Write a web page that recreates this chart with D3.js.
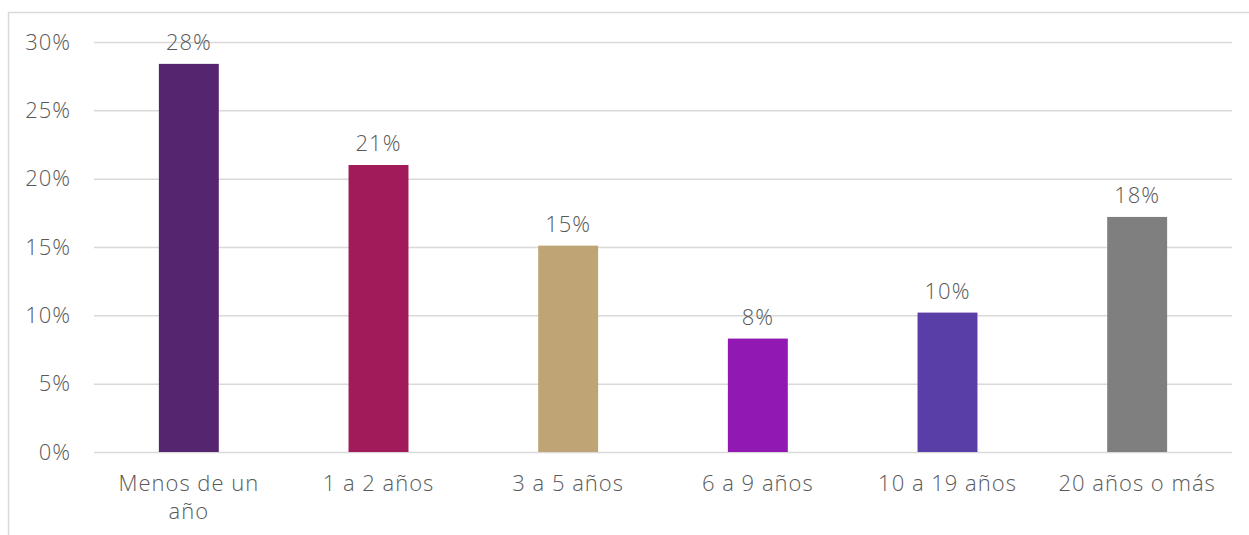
<!DOCTYPE html>
<html><head><meta charset="utf-8">
<script src="https://cdn.jsdelivr.net/npm/d3@7"></script>
<style>
body{margin:0;background:#fff;}
text{font-family:"Open Sans",sans-serif;font-weight:300;fill:#595959;letter-spacing:1px;}
</style></head>
<body>
<svg id="c" width="1249" height="535"></svg>
<script>
const categories = ["Menos de un año","1 a 2 años","3 a 5 años","6 a 9 años","10 a 19 años","20 años o más"];
const values = [0.284, 0.210, 0.151, 0.083, 0.102, 0.172];
const valueLabels = ["28%","21%","15%","8%","10%","18%"];
const colors = ["#55266f","#a11a5a","#bfa575","#9118b2","#5a3ea8","#7f7f7f"];
const yTicks = [0,0.05,0.10,0.15,0.20,0.25,0.30];

const svg = d3.select("#c");
svg.append("rect").attr("x",8.5).attr("y",12.5).attr("width",1260).attr("height",540)
  .attr("fill","none").attr("stroke","#d9d9d9").attr("stroke-width",1.5);

const m = {left:94,right:1232,top:42,bottom:452};
const x = d3.scaleBand().domain(categories).range([m.left,m.right]).paddingInner(0.684).paddingOuter(0.342);
const y = d3.scaleLinear().domain([0,0.30]).range([m.bottom,m.top]);

const gy = svg.append("g").attr("transform",`translate(${m.left},0)`)
  .call(d3.axisLeft(y).tickValues(yTicks).tickFormat(d3.format(".0%")).tickSize(-(m.right-m.left)).tickPadding(23));
gy.select(".domain").remove();
gy.selectAll(".tick line").attr("stroke","#d9d9d9").attr("stroke-width",1.5);
gy.selectAll(".tick text").attr("font-size",22).attr("fill","#595959").attr("font-family","Open Sans").attr("font-weight",300);

svg.selectAll("rect.bar").data(values).join("rect").attr("class","bar")
  .attr("x",(d,i)=>x(categories[i])).attr("width",x.bandwidth())
  .attr("y",d=>y(d)).attr("height",d=>y(0)-y(d)).attr("fill",(d,i)=>colors[i]);

svg.selectAll("text.vl").data(values).join("text").attr("class","vl")
  .attr("x",(d,i)=>x(categories[i])+x.bandwidth()/2).attr("y",d=>y(d)-14)
  .attr("text-anchor","middle").attr("font-size",22).text((d,i)=>valueLabels[i]);

categories.forEach((c,i)=>{
  const cx = x(c)+x.bandwidth()/2;
  const lines = c==="Menos de un año" ? ["Menos de un","año"] : [c];
  const t = svg.append("text").attr("x",cx).attr("y",491).attr("text-anchor","middle").attr("font-size",22);
  lines.forEach((l,j)=>t.append("tspan").attr("x",cx).attr("dy",j?28:0).text(l));
});
</script>
</body></html>
